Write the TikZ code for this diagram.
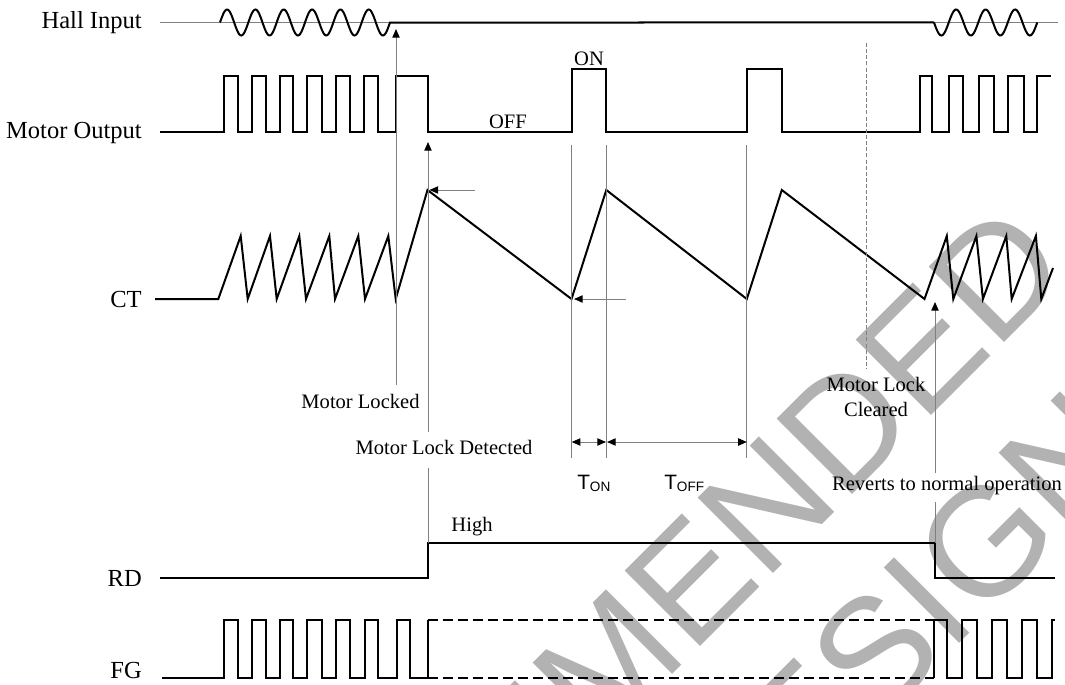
\documentclass[tikz,border=0pt]{standalone}
\usepackage{fontspec}
\setmainfont{Liberation Serif}
\newfontfamily\arialf{Liberation Sans}
\usetikzlibrary{arrows.meta}
\begin{document}
\begin{tikzpicture}[x=0.75pt,y=-0.75pt,
  sig/.style={line width=1.5pt, line join=miter},
  guide/.style={draw=black!50, line width=0.75pt},
  dguide/.style={draw=black!50, line width=0.75pt, dash pattern=on 3pt off 1.6pt},
  dsig/.style={line width=1pt, dash pattern=on 7.5pt off 3.8pt},
  >={Triangle[length=6.5pt,width=5.5pt,color=black]},
  axlbl/.style={font=\fontsize{18.4}{22}\selectfont, anchor=east, inner sep=0},
  lbl/.style={font=\fontsize{15.4}{18.75}\selectfont, inner sep=0},
  tlbl/.style={font=\arialf\fontsize{15.6}{18}\selectfont, anchor=base west, inner sep=0},
  wm/.style={font=\arialf\fontsize{116.25}{140}\selectfont, text=black!30, rotate=45, inner sep=0, anchor=base east}]
\useasboundingbox (0,0) rectangle (1065,685);

% watermark
\begin{scope}
\clip (0,0) rectangle (1065,685);
\node[wm] (wm1) at (1075,272) {NOT RECOMMENDED};
\node[wm] (wm2) at (1218,385) {FOR NEW DESIGNS};
\end{scope}

% axis labels
\node[axlbl] (hall) at (142,22.5) {Hall Input};
\node[axlbl] (mout) at (142,132.5) {Motor Output};
\node[axlbl] (ct) at (142,299) {CT};
\node[axlbl] (rd) at (142,578) {RD};
\node[axlbl] (fg) at (142,670) {FG};

% Hall input
\coordinate (hallL) at (160,22.5);
\coordinate (hallR) at (1058,22.5);
\draw[guide] (hallL) -- (hallR);
\draw[sig] plot[domain=220:390,samples=160,smooth] (\x,{22.5-13*sin(12.706*(\x-220))}) -- (934,22.5);
\draw[sig] plot[domain=934:1037.25,samples=100,smooth] (\x,{22.5+13*sin(12.2034*(\x-934))});

% Motor output
\draw[sig] (160,132.5)
  foreach \r/\f in {224/238.3, 251.7/266, 280/293.3, 307.3/321.7, 335.7/350, 363.5/378.3, 395.7/427.5}
    { -- (\r,132.5) -- (\r,76) -- (\f,76) -- (\f,132.5) }
  foreach \r/\f in {571.5/606.3, 746.8/781.8}
    { -- (\r,132.5) -- (\r,69) -- (\f,69) -- (\f,132.5) }
  foreach \r/\f in {919.8/932.4, 948.6/963, 979.3/993.7, 1008/1024.3}
    { -- (\r,132.5) -- (\r,76) -- (\f,76) -- (\f,132.5) }
  -- (1037,132.5) -- (1037,76) -- (1051,76);

% CT
\draw[sig] (155,299) -- (218.3,299)
  foreach \p/\b in {240.7/247.7, 270/276.7, 299.3/306, 329.3/335, 358.3/365, 388.3/395.7}
    { -- (\p,236) -- (\b,299) }
  -- (427.5,190) -- (571.5,299) -- (606.3,190) -- (746.8,299) -- (781.8,190) -- (924.5,299)
  foreach \p/\b in {946.8/953.3, 976.4/982.9, 1006.3/1011.7, 1035.9/1041.3}
    { -- (\p,236) -- (\b,299) }
  -- (1053,268);

% RD
\draw[sig] (160,578) -- (428,578) -- (428,543) -- (934.5,543) -- (934.5,578) -- (1055,578);

% FG
\draw[sig] (162,678)
  foreach \r/\f in {224/238.3, 251.7/265.7, 280/293.3, 307.3/321.7, 335.7/350, 365/378.3, 396.7/410}
    { -- (\r,678) -- (\r,620) -- (\f,620) -- (\f,678) }
  -- (427.5,678) -- (427.5,620);
\draw[dsig] (427.5,620) -- (934.3,620);
\draw[dsig] (427.5,678) -- (934.3,678);
\draw[sig] (934.3,678) -- (934.3,620) -- (946.7,620) -- (946.7,678)
  foreach \r/\f in {961.7/976.7, 991.7/1006.7, 1021.7/1036.7}
    { -- (\r,678) -- (\r,620) -- (\f,620) -- (\f,678) }
  -- (1051.7,678) -- (1051.7,620) -- (1055,620);

% guide lines and arrows
\coordinate (lockB) at (396,385);
\coordinate (lockT) at (396,29);
\draw[guide,->] (lockB) -- (lockT);
\coordinate (detB) at (428,432);
\coordinate (detT) at (428,142);
\draw[guide,->] (detB) -- (detT);
\coordinate (detB2) at (428,468);
\coordinate (detR) at (428,543);
\draw[guide] (detB2) -- (detR);
\coordinate (pkS) at (475,190);
\coordinate (pkE) at (429.5,190);
\draw[guide,->] (pkS) -- (pkE);
\coordinate (mnS) at (626,299);
\coordinate (mnE) at (574,299);
\draw[guide,->] (mnS) -- (mnE);

\coordinate (v1t) at (571.7,145); \coordinate (v1b) at (571.7,458);
\coordinate (v2t) at (606,145);   \coordinate (v2b) at (606,458);
\coordinate (v3t) at (746.8,145); \coordinate (v3b) at (746.8,458);
\draw[guide] (v1t) -- (v1b);
\draw[guide] (v2t) -- (v2b);
\draw[guide] (v3t) -- (v3b);
\coordinate (ton1) at (571.7,442); \coordinate (ton2) at (606,442);
\coordinate (toff1) at (607,442);  \coordinate (toff2) at (746.8,442);
\draw[guide,<->] (ton1) -- (ton2);
\draw[guide,<->] (toff1) -- (toff2);

\coordinate (clrT) at (866.8,43);
\coordinate (clrB) at (866.8,369);
\draw[dguide] (clrT) -- (clrB);

\coordinate (revB) at (935,473);
\coordinate (revT) at (935,302);
\draw[guide,->] (revB) -- (revT);
\coordinate (revB2) at (935,502);
\coordinate (revR) at (935,543);
\draw[guide] (revB2) -- (revR);

% labels
\node[lbl, anchor=base] (on) at (589,66) {ON};
\node[lbl, anchor=base] (off) at (508,129) {OFF};
\node[lbl] (locked) at (360.5,401) {Motor Locked};
\node[lbl] (detected) at (444,447) {Motor Lock Detected};
\node[lbl, align=center] (cleared) at (876,397) {Motor Lock\\Cleared};
\node[lbl] (reverts) at (947,486) {Reverts to normal operation};
\node[lbl] (high) at (472,527) {High};
\node[tlbl] (ton) at (577,489) {T\raisebox{-2.2pt}{\fontsize{10.2}{12}\selectfont ON}};
\node[tlbl] (toff) at (664,489) {T\raisebox{-2.2pt}{\fontsize{10.2}{12}\selectfont OFF}};
\end{tikzpicture}
\end{document}
